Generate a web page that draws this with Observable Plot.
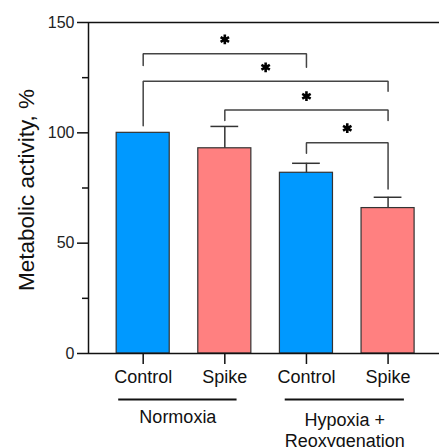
<!DOCTYPE html>
<html>
<head>
<meta charset="utf-8">
<script src="https://cdn.jsdelivr.net/npm/d3@7"></script>
<script src="https://cdn.jsdelivr.net/npm/@observablehq/plot@0.6"></script>
<style>
  html, body { margin: 0; padding: 0; background: #fff; }
</style>
</head>
<body>
<div id="chart"></div>
<script>
// ---- data ----
const categories = ["Control", "Spike", "Control", "Spike"];
const conditions = ["Normoxia", "Normoxia", "Hypoxia + Reoxygenation", "Hypoxia + Reoxygenation"];
const values = [100, 93.0, 81.9, 65.9];
const errors = [0, 9.9, 4.3, 4.9];
const barColors = ["#0099ff", "#ff8080", "#0099ff", "#ff8080"];

const yTicks = [0, 50, 100, 150];
const yMinorTicks = [25, 75, 125];

// significance brackets: from bar index a to b
const bracketFrom = [0, 0, 1, 2];
const bracketTo = [2, 3, 3, 3];
const bracketTop = [135.8, 123.4, 110.3, 95.5];
const bracketLeftEnd = [130.5, 103.2, 105.6, 90.8];
const bracketRightEnd = [129.7, 118.9, 105.6, 74.6];
const starY = [142.3, 129.7, 116.6, 102.1];

// group labels under the axis (in category-index units)
const groupNames = ["Normoxia", "Hypoxia +\nReoxygenation"];
const groupStart = [-0.30, 1.74];
const groupEnd = [1.15, 3.20];

// ---- derived tables ----
const bars = categories.map((c, i) => ({i, c, v: values[i], e: errors[i], fill: barColors[i]}));
const errBars = bars.filter(d => d.e > 0);
const bracketPts = [];
bracketFrom.forEach((a, k) => {
  const b = bracketTo[k];
  bracketPts.push({id: k, x: a, y: bracketLeftEnd[k]});
  bracketPts.push({id: k, x: a, y: bracketTop[k]});
  bracketPts.push({id: k, x: b, y: bracketTop[k]});
  bracketPts.push({id: k, x: b, y: bracketRightEnd[k]});
});
const stars = bracketFrom.map((a, k) => ({x: (a + bracketTo[k]) / 2, y: starY[k]}));
const groups = groupNames.map((g, k) => ({k, g, s: groupStart[k], e: groupEnd[k], m: (groupStart[k] + groupEnd[k]) / 2}));

const barHalf = 0.325;
const capHalf = 0.17;
const xDomain = [-0.67, 3.63];

const chart = Plot.plot({
  width: 439,
  height: 447,
  marginLeft: 88,
  marginRight: 0,
  marginTop: 22,
  marginBottom: 94,
  style: {fontFamily: "'Liberation Sans', Arial, sans-serif", background: "#fff", overflow: "visible"},
  x: {type: "linear", domain: xDomain, axis: null},
  y: {domain: [0, 150], axis: null},
  marks: [
    Plot.rectY(bars, {x1: d => d.i - barHalf, x2: d => d.i + barHalf, y1: 0, y2: "v", fill: d => d.fill, stroke: "#333", strokeWidth: 1.2}),
    Plot.ruleX(errBars, {x: "i", y1: "v", y2: d => d.v + d.e, stroke: "#333", strokeWidth: 1.5}),
    Plot.ruleY(errBars, {y: d => d.v + d.e, x1: d => d.i - capHalf, x2: d => d.i + capHalf, stroke: "#333", strokeWidth: 1.5}),
    Plot.line(bracketPts, {x: "x", y: "y", z: "id", stroke: "#444", strokeWidth: 1.5, strokeLinejoin: "miter"}),
    Plot.dot(stars, {x: "x", y: "y", symbol: "asterisk", r: 4.6, stroke: "#000", strokeWidth: 2.6}),
    Plot.ruleY([0, 150], {stroke: "#111", strokeWidth: 1.5}),
    Plot.ruleX([xDomain[0]], {y1: 0, y2: 150, stroke: "#111", strokeWidth: 1.5}),
    Plot.axisY(yTicks, {tickSize: 11, tickPadding: 3, fontSize: 16, label: null, stroke: "#111", strokeWidth: 1.5, fill: "#222"}),
    Plot.axisY(yMinorTicks, {tickSize: 6, tickFormat: () => "", label: null, stroke: "#111", strokeWidth: 1.5}),
    Plot.axisX(bars.map(d => d.i), {tickSize: 11, tickPadding: 6, fontSize: 18, tickFormat: i => categories[i], label: null, stroke: "#111", strokeWidth: 1.5, fill: "#111"}),
    Plot.ruleY(groups, {y: 0, x1: "s", x2: "e", dy: 46, stroke: "#111", strokeWidth: 2}),
    Plot.text(groups.filter(d => d.k === 0), {x: "m", y: 0, text: "g", dy: 55, lineAnchor: "top", lineHeight: 1.15, fontSize: 18, fill: "#111"}),
    Plot.text(groups.filter(d => d.k === 1), {x: "m", y: 0, text: "g", dy: 58, lineAnchor: "top", lineHeight: 1.15, fontSize: 18, fill: "#111"}),
    Plot.text(["Metabolic activity, %"], {frameAnchor: "left", textAnchor: "middle", rotate: -90, dx: -62, dy: 2, fontSize: 22.5, fill: "#111", text: d => d})
  ]
});
document.getElementById("chart").appendChild(chart);
</script>
</body>
</html>
